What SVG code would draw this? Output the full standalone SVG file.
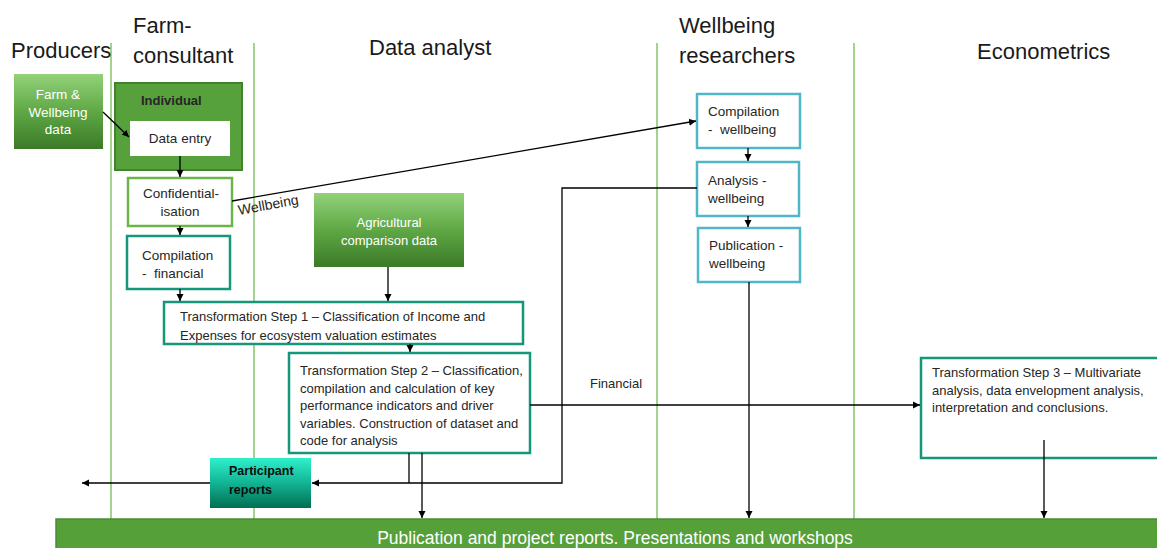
<svg xmlns="http://www.w3.org/2000/svg" width="1157" height="548" viewBox="0 0 1157 548">
<defs>
<linearGradient id="gGreen" x1="0" y1="0" x2="0" y2="1">
<stop offset="0" stop-color="#92d27a"/><stop offset="0.5" stop-color="#5fa845"/><stop offset="1" stop-color="#3b7a28"/>
</linearGradient>
<linearGradient id="gTeal" x1="0" y1="0" x2="0" y2="1">
<stop offset="0" stop-color="#2ff0cc"/><stop offset="0.5" stop-color="#12b494"/><stop offset="1" stop-color="#026e52"/>
</linearGradient>
<marker id="arr" markerWidth="8" markerHeight="8" refX="7" refY="4" orient="auto" markerUnits="userSpaceOnUse">
<path d="M0,0.5 L7,4 L0,7.5 Z" fill="#000"/>
</marker>
<style>
text{font-family:"Liberation Sans",Arial,sans-serif;fill:#262626}
.hdr{font-size:22px;fill:#1a1a1a}
.t{font-size:13px}
.b{font-size:13.5px}
.w{fill:#fff}
.lane{stroke:#86c36a;stroke-width:1.5}
.box{fill:#fff;stroke-width:2.5}
.green{stroke:#6cb548}
.teal{stroke:#16977a}
.cyan{stroke:#4fb8c8}
.c{stroke:#000;stroke-width:1.3;fill:none}
.ca{stroke:#000;stroke-width:1.3;fill:none;marker-end:url(#arr)}
</style>
</defs>

<g id="lanes">
<line class="lane" x1="111" y1="43" x2="111" y2="519"/>
<line class="lane" x1="254" y1="43" x2="254" y2="519"/>
<line class="lane" x1="657" y1="43" x2="657" y2="519"/>
<line class="lane" x1="854" y1="43" x2="854" y2="519"/>
</g>

<g id="headers">
<text class="hdr" x="11" y="58">Producers</text>
<text class="hdr" x="133" y="33">Farm-</text>
<text class="hdr" x="133" y="63">consultant</text>
<text class="hdr" x="369" y="55">Data analyst</text>
<text class="hdr" x="679" y="33">Wellbeing</text>
<text class="hdr" x="679" y="63">researchers</text>
<text class="hdr" x="977" y="59">Econometrics</text>
</g>

<g id="farm-data">
<rect x="14" y="74" width="89" height="75" fill="url(#gGreen)"/>
<text class="b w" text-anchor="middle" x="58" y="99">Farm &amp;</text>
<text class="b w" text-anchor="middle" x="58" y="117">Wellbeing</text>
<text class="b w" text-anchor="middle" x="58" y="134">data</text>
</g>

<g id="individual">
<rect x="115" y="83" width="127" height="87" fill="#56a13c" stroke="#3f832b" stroke-width="2"/>
<text class="t" x="141" y="105" font-weight="bold" fill="#111">Individual</text>
</g>

<g id="data-entry">
<rect x="130" y="121" width="100" height="35" fill="#fff"/>
<text class="b" text-anchor="middle" x="180" y="143">Data entry</text>
</g>

<g id="confidentialisation">
<rect class="box green" x="128" y="178" width="104" height="48"/>
<text class="b" text-anchor="middle" x="181" y="198">Confidential-</text>
<text class="b" text-anchor="middle" x="180" y="216">isation</text>
</g>

<g id="compilation-financial">
<rect class="box teal" x="127" y="236" width="103" height="53"/>
<text class="b" x="142" y="260">Compilation</text>
<text class="b" x="142" y="278" xml:space="preserve">-  financial</text>
</g>

<g id="agricultural">
<rect x="314" y="193" width="150" height="74" fill="url(#gGreen)"/>
<text class="t w" text-anchor="middle" x="389" y="227">Agricultural</text>
<text class="t w" text-anchor="middle" x="389" y="245">comparison data</text>
</g>

<g id="step1">
<rect class="box teal" x="164" y="302" width="359" height="42"/>
<text class="t" x="180" y="321">Transformation Step 1 – Classification of Income and</text>
<text class="t" x="180" y="340">Expenses for ecosystem valuation estimates</text>
</g>

<g id="step2">
<rect class="box teal" x="289" y="353" width="241" height="100"/>
<text class="t" x="300" y="375">Transformation Step 2 – Classification,</text>
<text class="t" x="300" y="393">compilation and calculation of key</text>
<text class="t" x="300" y="410">performance indicators and driver</text>
<text class="t" x="300" y="428">variables. Construction of dataset and</text>
<text class="t" x="300" y="445">code for analysis</text>
</g>

<g id="step3">
<rect class="box teal" x="921" y="358" width="240" height="100"/>
<text class="t" x="932" y="377">Transformation Step 3 – Multivariate</text>
<text class="t" x="932" y="395">analysis, data envelopment analysis,</text>
<text class="t" x="932" y="412">interpretation and conclusions.</text>
</g>

<g id="compilation-wellbeing">
<rect class="box cyan" x="697" y="94" width="103" height="54"/>
<text class="b" x="708" y="116">Compilation</text>
<text class="b" x="708" y="134" xml:space="preserve">-  wellbeing</text>
</g>

<g id="analysis-wellbeing">
<rect class="box cyan" x="697" y="162" width="102" height="54"/>
<text class="b" x="708" y="185">Analysis -</text>
<text class="b" x="708" y="203">wellbeing</text>
</g>

<g id="publication-wellbeing">
<rect class="box cyan" x="698" y="228" width="102" height="54"/>
<text class="b" x="709" y="250">Publication -</text>
<text class="b" x="709" y="268">wellbeing</text>
</g>

<g id="participant-reports">
<rect x="210" y="458" width="101" height="50" fill="url(#gTeal)"/>
<text x="229" y="475" font-size="12.5" font-weight="bold" style="fill:#0d0d0d">Participant</text>
<text x="229" y="494" font-size="12.5" font-weight="bold" style="fill:#0d0d0d">reports</text>
</g>

<g id="publication-bar">
<rect x="56" y="519" width="1104" height="32" fill="#56a03a" stroke="#4a8c35" stroke-width="1.5"/>
<text x="615" y="544" text-anchor="middle" font-size="17.5" style="fill:#fff">Publication and project reports. Presentations and workshops</text>
</g>

<g id="connectors">
<line class="ca" x1="103" y1="112" x2="129" y2="137"/>
<line class="ca" x1="180" y1="156" x2="180" y2="177"/>
<line class="ca" x1="180" y1="226" x2="180" y2="235"/>
<line class="ca" x1="180" y1="289" x2="180" y2="301"/>
<line class="ca" x1="232" y1="201" x2="696" y2="121"/>
<text font-size="14" transform="translate(239,215) rotate(-10.3)">Wellbeing</text>
<line class="ca" x1="388" y1="267" x2="388" y2="301"/>
<line class="ca" x1="410" y1="344" x2="410" y2="352"/>
<line class="ca" x1="530" y1="405" x2="920" y2="405"/>
<text class="t" x="590" y="388">Financial</text>
<line class="ca" x1="1044" y1="440" x2="1044" y2="518"/>
<line class="ca" x1="748" y1="148" x2="748" y2="161"/>
<line class="ca" x1="748" y1="216" x2="748" y2="227"/>
<line class="ca" x1="749" y1="282" x2="749" y2="518"/>
<polyline class="ca" points="697,188 562,188 562,483 312,483"/>
<line class="c" x1="409" y1="453" x2="409" y2="483"/>
<line class="ca" x1="422" y1="453" x2="422" y2="518"/>
<line class="ca" x1="210" y1="483" x2="82" y2="483"/>
</g>
</svg>
